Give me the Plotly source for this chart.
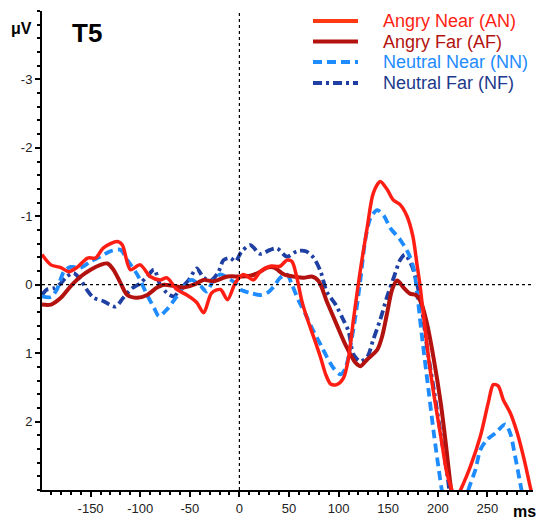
import plotly.graph_objects as go

# ---- data (ms, µV) ----
AN_t = [-199,-190,-180,-172,-163,-153,-145,-137,-123,-118,-110,-100,-90,-80,-73,-63,-53,-43,-36,-28,-19,-12,-4,4,14,21,31,41,48,53,58,63,68,75,82,87,92,98,105,110,115,122,129,135,142,149,155,162,169,175,179,182,186,191,196,203,209,214,218,223,233,243,251,256,261,266,273,280,287,293,298]
AN_v = [-0.44,-0.29,-0.25,-0.19,-0.26,-0.39,-0.39,-0.54,-0.63,-0.58,-0.22,-0.29,-0.12,-0.07,-0.10,0.07,0.15,0.26,0.41,0.12,0.07,0.22,-0.03,-0.15,-0.07,-0.19,-0.27,-0.27,-0.36,-0.34,-0.10,0.24,0.48,0.77,1.07,1.31,1.45,1.46,1.36,1.07,0.51,-0.22,-0.85,-1.34,-1.51,-1.39,-1.24,-1.17,-1.00,-0.70,-0.30,0.00,0.50,1.10,1.60,2.21,2.74,2.99,3.15,3.00,2.65,2.21,1.72,1.46,1.48,1.68,1.87,2.16,2.55,2.94,3.25]

AF_t = [-199,-190,-180,-170,-160,-150,-140,-133,-127,-120,-113,-103,-93,-83,-76,-66,-56,-46,-36,-26,-12,1,11,21,28,35,45,55,65,73,80,88,98,107,117,122,129,139,144,149,154,159,166,172,178,183,189,196,203,208,213,220,240,298]
AF_v = [0.29,0.29,0.19,0.02,-0.12,-0.22,-0.29,-0.31,-0.22,-0.03,0.15,0.19,0.15,0.04,0.00,0.02,0.04,0.00,-0.07,-0.05,-0.12,-0.12,-0.13,-0.19,-0.25,-0.25,-0.15,-0.12,-0.10,-0.12,-0.05,0.24,0.58,0.88,1.14,1.19,1.09,0.95,0.75,0.41,0.07,-0.06,0.05,0.13,0.15,0.25,0.56,1.09,1.73,2.31,2.94,3.60,4.30,4.30]

NN_t = [-199,-190,-184,-177,-170,-160,-150,-140,-130,-120,-113,-103,-93,-86,-81,-73,-63,-53,-48,-39,-33,-26,-19,-12,-2,1,11,21,28,35,41,48,53,60,67,73,82,88,95,102,107,110,117,122,127,132,139,146,152,162,171,176,179,184,191,196,201,204,212,220,231,238,243,250,258,268,273,278,283,287]
NN_v = [0.17,0.18,0.07,-0.19,-0.26,-0.25,-0.34,-0.41,-0.49,-0.51,-0.36,-0.15,0.15,0.34,0.46,0.36,0.17,-0.03,-0.07,0.02,0.10,-0.07,-0.15,-0.10,0.00,0.07,0.12,0.15,0.12,0.02,-0.10,-0.15,0.00,0.24,0.44,0.63,0.88,1.05,1.22,1.31,1.22,1.05,0.46,-0.07,-0.66,-0.97,-1.09,-1.00,-0.83,-0.66,-0.44,-0.22,0.10,0.75,1.58,2.17,2.70,2.99,3.50,3.50,2.99,2.70,2.41,2.26,2.17,2.04,2.17,2.51,2.89,3.20]

NF_t = [-199,-194,-187,-180,-174,-167,-160,-154,-147,-137,-125,-117,-108,-100,-93,-86,-80,-73,-66,-60,-51,-43,-36,-28,-21,-16,-9,-4,2,11,21,31,38,48,58,67,75,82,88,97,104,110,115,122,129,135,142,149,156,162,167,174,179,184,189,196,203,210,216,230,298]
NF_v = [0.15,0.07,0.05,-0.02,-0.12,-0.17,-0.07,0.07,0.19,0.24,0.32,0.19,0.05,-0.02,-0.12,-0.22,0.00,0.12,0.17,0.07,-0.07,-0.24,-0.10,-0.07,-0.19,-0.36,-0.39,-0.34,-0.48,-0.58,-0.45,-0.51,-0.53,-0.41,-0.49,-0.49,-0.39,-0.19,0.10,0.29,0.49,0.68,1.02,1.12,1.05,0.80,0.51,0.17,-0.12,-0.36,-0.44,-0.27,-0.02,0.36,0.90,1.53,2.19,2.82,3.50,4.20,4.20]

NAMES = ["Angry Near (AN)", "Angry Far (AF)", "Neutral Near (NN)", "Neutral Far (NF)"]
X_TICKS = [-150, -100, -50, 0, 50, 100, 150, 200, 250]
X_LABELS = ["-150", "-100", "-50", "0", "50", "100", "150", "200", "250"]
Y_TICKS = [-3, -2, -1, 0, 1, 2]
Y_LABELS = ["-3", "-2", "-1", "0", "1", "2"]

COLORS = ["#ff1e14", "#b3120f", "#1e8cff", "#1f3fa3"]
TEXT_COLORS = ["#ff1e14", "#b3120f", "#1e8cff", "#1c3a8c"]
DASHES = ["solid", "solid", "9px,5px", "9px,4px,3px,4px"]
WIDTHS = [3.5, 4, 3.8, 3.8]

FONT = "Arial, Liberation Sans, sans-serif"

fig = go.Figure()
series = [(AN_t, AN_v), (AF_t, AF_v), (NN_t, NN_v), (NF_t, NF_v)]
# draw order: neutral under angry
for i in [3, 2, 1, 0]:
    t, v = series[i]
    fig.add_trace(go.Scatter(
        x=t, y=v, mode="lines", name=NAMES[i], showlegend=False,
        line=dict(color=COLORS[i], width=WIDTHS[i], dash=DASHES[i],
                  shape="spline", smoothing=0.8),
    ))

# zero reference lines
fig.add_shape(type="line", xref="paper", yref="y", x0=0, x1=1, y0=0, y1=0,
              line=dict(color="black", width=1.2, dash="dot"))
fig.add_shape(type="line", xref="x", yref="paper", x0=0, x1=0, y0=0, y1=1,
              line=dict(color="black", width=1.2, dash="dot"))

# legend drawn as lines + coloured texts
L, R, T, B = 42, 533, 11, 490
def px(xpix):
    return (xpix - L) / (R - L)
def py(ypix):
    return (B - ypix) / (B - T)

rows = [21, 41.5, 62, 83]
for i in range(4):
    fig.add_shape(type="line", xref="paper", yref="paper",
                  x0=px(313), x1=px(358), y0=py(rows[i]), y1=py(rows[i]),
                  line=dict(color=COLORS[i] if i else "#ff3a12", width=4, dash=DASHES[i]))
    fig.add_annotation(xref="paper", yref="paper", x=px(381), y=py(rows[i]),
                       text=NAMES[i], showarrow=False, xanchor="left", yanchor="middle",
                       font=dict(family=FONT, size=18, color=TEXT_COLORS[i]))

fig.add_annotation(xref="paper", yref="paper", x=px(21), y=py(28), text="<b>μV</b>",
                   showarrow=False, xanchor="center", yanchor="middle",
                   font=dict(family=FONT, size=16, color="black"))
fig.add_annotation(xref="paper", yref="paper", x=px(87), y=py(33), text="<b>T5</b>",
                   showarrow=False, xanchor="center", yanchor="middle",
                   font=dict(family=FONT, size=26, color="black"))
fig.add_annotation(xref="paper", yref="paper", x=px(524), y=py(511), text="<b>ms</b>",
                   showarrow=False, xanchor="center", yanchor="middle",
                   font=dict(family=FONT, size=16, color="black"))

fig.update_layout(
    width=536, height=521,
    margin=dict(l=L, r=536 - R, t=T, b=521 - B),
    paper_bgcolor="white", plot_bgcolor="white",
    font=dict(family=FONT, size=13, color="#222"),
    xaxis=dict(range=[-199, 296], showgrid=False, zeroline=False,
               showline=True, linecolor="black", linewidth=2,
               tickmode="array", tickvals=X_TICKS, ticktext=X_LABELS,
               ticks="outside", ticklen=5, tickwidth=1.5, tickcolor="black",
               minor=dict(tickmode="linear", tick0=0, dtick=10, ticks="outside",
                          ticklen=3, tickwidth=1.5, tickcolor="black", showgrid=False)),
    yaxis=dict(range=[3, -4], showgrid=False, zeroline=False,
               showline=True, linecolor="black", linewidth=2,
               tickmode="array", tickvals=Y_TICKS, ticktext=Y_LABELS,
               ticks="outside", ticklen=5, tickwidth=1.5, tickcolor="black",
               minor=dict(tickmode="linear", tick0=0, dtick=0.2, ticks="outside",
                          ticklen=3, tickwidth=1.5, tickcolor="black", showgrid=False)),
    showlegend=False,
)

fig.write_html("out.html", config={"displayModeBar": False},
               post_script="document.body.style.margin='0';document.body.style.overflow='hidden';")
